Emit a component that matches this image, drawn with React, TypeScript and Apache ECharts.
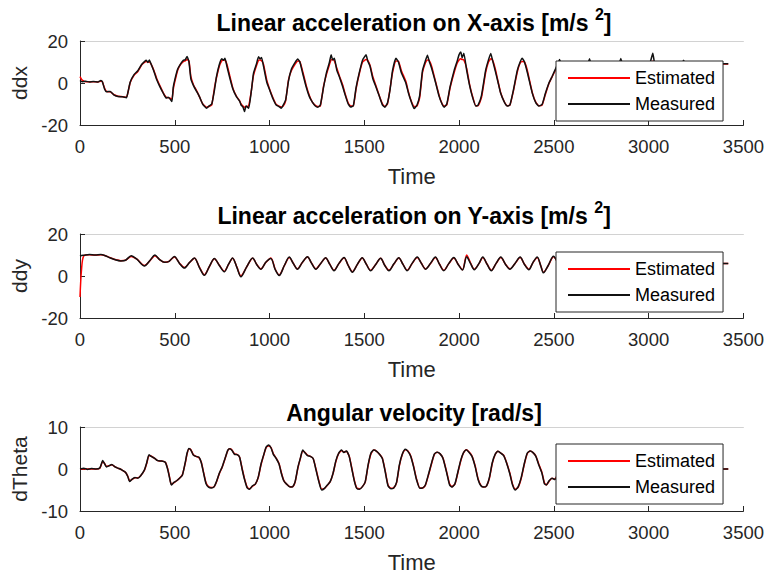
import React, { useEffect, useRef } from "react";
import * as echarts from "echarts";

// ---- Linear acceleration on X-axis ----
const ddxTime = [
  0, 10, 30, 50, 70, 95, 110, 118, 130, 140,
  160, 180, 200, 225, 245, 255, 265, 285, 305, 325,
  340, 350, 358, 366, 375, 390, 405, 420, 440, 455,
  465, 475, 485, 492, 500, 515, 530, 545, 555, 565,
  575, 585, 600, 615, 630, 648, 668, 680, 695, 710,
  720, 735, 748, 758, 765, 775, 790, 807, 825, 842,
  850, 860, 868, 876, 890, 905, 915, 930, 942, 950,
  958, 968, 985, 1000, 1018, 1035, 1050, 1062, 1072, 1085,
  1100, 1115, 1135, 1149, 1160, 1175, 1193, 1210, 1225, 1240,
  1255, 1268, 1285, 1300, 1315, 1325, 1333, 1342, 1355, 1370,
  1386, 1400, 1415, 1428, 1442, 1456, 1475, 1491, 1509, 1518,
  1530, 1545, 1561, 1578, 1596, 1608, 1622, 1636, 1649, 1667,
  1680, 1695, 1719, 1732, 1746, 1763, 1778, 1792, 1807, 1822,
  1833, 1842, 1855, 1875, 1895, 1910, 1921, 1935, 1952, 1974,
  1990, 2000, 2009, 2016, 2025, 2040, 2055, 2070, 2088, 2100,
  2118, 2140, 2155, 2167, 2176, 2190, 2205, 2219, 2238, 2254,
  2268, 2285, 2307, 2322, 2333, 2345, 2360, 2386, 2405, 2421,
  2438, 2455, 2474, 2490, 2505, 2518, 2530, 2545, 2580, 2615,
  2640, 2670, 2688, 2705, 2740, 2775, 2800, 2835, 2853, 2870,
  2905, 2940, 2970, 3000, 3015, 3022, 3030, 3070, 3105, 3135,
  3168, 3185, 3200, 3240, 3280, 3320, 3360, 3390, 3420,
];
const ddxMeasured = [
  1.2, 0.6, 0.8, 0.5, 0.7, 0.5, 1.2, 0.6, -3.0, -4.2,
  -4.0, -5.8, -6.4, -6.6, -7.0, -3.5, 0.5, 4.0, 5.8, 8.8,
  10.2, 10.8, 9.8, 11.0, 9.0, 5.5, 1.5, -1.5, -5.0, -7.2,
  -6.8, -7.6, -8.8, -2.0, 1.5, 6.5, 9.0, 10.8, 11.0, 12.6,
  10.0, 2.0, -1.5, -4.0, -6.5, -10.2, -12.0, -11.0, -10.0, -3.0,
  3.0, 8.8, 11.5, 10.8, 11.8, 8.0, 2.5, -3.0, -6.5, -8.6,
  -10.5, -11.5, -13.6, -11.0, -12.0, -3.0, 4.5, 8.8, 12.5, 11.5,
  12.2, 8.0, 0.5, -3.2, -7.5, -10.5, -11.2, -12.0, -10.5, -8.0,
  1.0, 6.5, 9.8, 11.4, 10.0, 4.5, -1.8, -6.5, -9.0, -10.8,
  -11.5, -10.5, -2.0, 4.8, 9.5, 13.4, 11.0, 11.8, 6.0, 2.5,
  -1.8, -6.0, -10.0, -11.4, -10.8, -2.5, 5.5, 11.0, 13.4, 10.5,
  8.0, 2.0, -1.8, -6.0, -10.5, -11.5, -9.5, -3.0, 6.0, 11.8,
  10.0, 5.0, 0.0, -4.5, -8.5, -12.2, -10.5, -6.0, 6.0, 10.5,
  13.2, 10.5, 7.0, 0.5, -6.5, -10.0, -11.5, -10.0, -2.0, 6.0,
  10.5, 13.5, 14.8, 12.0, 14.2, 6.0, -1.0, -6.5, -11.0, -10.5,
  -6.0, 6.0, 11.0, 14.1, 11.0, 6.0, 0.5, -4.8, -9.0, -11.0,
  -10.5, -4.0, 6.0, 10.0, 11.8, 10.0, 5.0, -4.8, -9.5, -11.0,
  -10.2, -5.0, 0.0, 3.0, 6.0, 8.5, 11.2, 7.0, -3.0, -10.5,
  -4.0, 6.0, 11.6, 6.0, -4.0, -10.5, -6.0, 6.0, 11.7, 6.0,
  -4.0, -11.0, -4.0, 7.0, 12.0, 14.2, 10.0, -3.0, -10.5, -3.0,
  8.0, 10.8, 6.0, -3.0, -6.0, 2.0, 8.0, 9.2, 9.2,
];
const ddxEstimated = [
  3.0, 1.5, 0.6, 0.6, 0.6, 0.5, 0.8, 0.6, -2.5, -4.0,
  -4.2, -5.6, -6.3, -6.5, -6.8, -3.8, 0.2, 3.6, 5.5, 8.5,
  9.8, 10.2, 10.0, 10.0, 9.0, 6.0, 2.0, -1.0, -4.8, -6.8,
  -7.0, -7.2, -7.8, -3.0, 0.5, 6.0, 8.8, 10.2, 10.6, 11.2,
  10.5, 3.0, -1.2, -3.6, -6.5, -10.0, -11.5, -11.2, -10.5, -2.0,
  2.5, 8.0, 10.6, 11.0, 10.8, 9.0, 3.5, -2.6, -6.2, -8.5,
  -10.0, -11.0, -11.5, -11.2, -11.0, -3.0, 3.5, 8.0, 10.8, 11.0,
  10.6, 9.0, 1.5, -2.8, -7.0, -10.2, -11.0, -11.4, -11.0, -8.5,
  1.5, 5.8, 9.0, 10.5, 10.2, 5.5, -1.0, -6.0, -9.0, -10.5,
  -11.2, -11.0, -1.5, 4.0, 8.5, 11.0, 11.2, 10.5, 7.0, 3.0,
  -1.0, -5.5, -9.5, -11.0, -11.0, -3.0, 5.0, 10.0, 11.2, 10.8,
  8.5, 3.0, -1.2, -5.8, -10.0, -11.2, -10.0, -2.5, 5.0, 10.5,
  10.4, 6.0, 0.8, -4.0, -8.2, -11.2, -11.0, -7.0, 5.0, 9.5,
  11.0, 10.8, 8.0, 1.0, -6.0, -9.8, -11.0, -10.5, -2.5, 5.0,
  9.5, 11.0, 11.5, 11.2, 11.0, 7.0, -0.5, -6.0, -10.8, -10.8,
  -7.0, 5.0, 10.0, 11.5, 11.0, 7.0, 1.0, -4.5, -8.8, -10.8,
  -10.6, -4.5, 5.2, 9.5, 10.2, 10.0, 6.0, -4.5, -9.2, -10.8,
  -10.5, -5.5, -0.2, 2.8, 5.5, 8.0, 10.2, 8.0, -2.5, -10.0,
  -4.5, 5.5, 10.2, 7.0, -3.5, -10.0, -6.5, 5.5, 10.2, 7.0,
  -3.5, -10.5, -4.5, 6.5, 10.0, 10.4, 10.0, -2.5, -10.0, -3.5,
  7.5, 10.0, 6.5, -2.5, -5.5, 1.5, 7.5, 9.0, 9.0,
];

// ---- Linear acceleration on Y-axis ----
const ddyTime = [
  0, 8, 20, 50, 80, 110, 130, 160, 190, 215,
  240, 270, 300, 340, 370, 395, 420, 446, 470, 498,
  525, 551, 578, 604, 630, 656, 682, 709, 735, 761,
  783, 805, 828, 849, 880, 911, 932, 954, 980, 1007,
  1030, 1051, 1078, 1104, 1125, 1147, 1173, 1200, 1222, 1244,
  1270, 1296, 1318, 1340, 1366, 1393, 1415, 1437, 1463, 1489,
  1511, 1533, 1560, 1586, 1608, 1630, 1656, 1682, 1704, 1726,
  1752, 1779, 1801, 1823, 1849, 1875, 1897, 1919, 1946, 1972,
  1995, 2018, 2040, 2060, 2080, 2105, 2125, 2148, 2170, 2195,
  2220, 2245, 2268, 2295, 2322, 2345, 2368, 2390, 2412, 2432,
  2445, 2470, 2498, 2520, 2545, 2590, 2640, 2685, 2735, 2780,
  2830, 2875, 2925, 2970, 3020, 3065, 3115, 3160, 3210, 3255,
  3305, 3350, 3390, 3420,
];
const ddyMeasured = [
  9.5, 9.8, 9.9, 10.2, 10.0, 10.2, 9.8, 8.6, 7.6, 7.2,
  7.5, 9.6, 8.0, 4.8, 7.5, 10.0, 7.8, 6.5, 7.0, 9.3,
  6.0, 3.8, 6.5, 8.6, 4.0, 0.3, 4.5, 8.3, 5.0, 2.0,
  5.5, 8.6, 4.0, -0.4, 4.5, 8.6, 5.5, 3.2, 6.5, 8.3,
  3.0, 0.2, 5.0, 9.0, 6.0, 3.2, 6.5, 9.2, 6.0, 3.2,
  6.0, 8.7, 5.5, 2.5, 6.0, 8.8, 5.0, 1.8, 5.5, 8.7,
  5.5, 2.5, 5.5, 8.4, 5.0, 2.5, 5.8, 8.7, 5.5, 2.5,
  6.0, 9.0, 6.0, 3.2, 6.0, 9.0, 5.5, 2.5, 6.0, 8.8,
  5.5, 2.8, 9.2, 6.0, 3.0, 6.0, 9.0, 5.5, 2.5, 6.0,
  9.0, 5.5, 3.2, 6.0, 9.0, 5.5, 3.0, 6.5, 9.0, 4.5,
  1.5, 5.0, 9.4, 6.5, 3.0, 8.8, 3.0, 8.8, 3.0, 8.8,
  3.0, 8.8, 3.0, 8.8, 3.0, 8.8, 3.0, 8.8, 3.5, 8.5,
  4.0, 8.0, 6.0, 6.0,
];
const ddyEstimated = [
  -10.0, 3.0, 9.6, 10.1, 10.0, 10.1, 9.8, 8.7, 7.7, 7.3,
  7.5, 9.3, 8.0, 5.0, 7.4, 9.7, 7.8, 6.6, 7.0, 9.1,
  6.1, 4.0, 6.4, 8.4, 4.2, 0.6, 4.4, 8.2, 5.1, 2.2,
  5.4, 8.5, 4.2, 0.0, 4.4, 8.5, 5.6, 3.4, 6.4, 8.6,
  3.2, 0.5, 4.9, 8.8, 6.1, 3.4, 6.4, 9.0, 6.1, 3.4,
  6.0, 8.6, 5.6, 2.7, 5.9, 8.7, 5.1, 2.1, 5.4, 8.6,
  5.6, 2.7, 5.5, 8.5, 5.1, 2.7, 5.7, 8.6, 5.6, 2.7,
  5.9, 8.8, 6.1, 3.4, 5.9, 8.8, 5.6, 2.7, 5.9, 8.6,
  5.6, 3.0, 10.0, 6.3, 3.2, 5.9, 8.8, 5.6, 2.7, 5.9,
  8.8, 5.6, 3.4, 5.9, 8.8, 5.6, 3.2, 6.4, 8.8, 4.6,
  1.8, 4.9, 9.2, 6.6, 3.2, 8.6, 3.2, 8.6, 3.2, 8.6,
  3.2, 8.6, 3.2, 8.6, 3.2, 8.6, 3.2, 8.6, 3.7, 8.3,
  4.2, 7.8, 6.0, 6.0,
];

// ---- Angular velocity ----
const dThetaTime = [
  0, 20, 40, 60, 85, 105, 120, 130, 140, 155,
  168, 185, 200, 220, 240, 252, 262, 275, 290, 305,
  320, 340, 352, 364, 375, 392, 410, 430, 450, 462,
  472, 482, 495, 510, 525, 540, 555, 565, 575, 585,
  598, 612, 628, 640, 652, 665, 678, 693, 708, 720,
  735, 750, 765, 780, 790, 802, 815, 830, 842, 855,
  868, 882, 895, 910, 925, 940, 955, 970, 982, 995,
  1008, 1020, 1035, 1050, 1062, 1075, 1090, 1108, 1122, 1135,
  1150, 1162, 1175, 1188, 1200, 1215, 1230, 1245, 1260, 1275,
  1290, 1305, 1320, 1335, 1350, 1365, 1380, 1392, 1405, 1420,
  1435, 1448, 1460, 1475, 1490, 1505, 1520, 1535, 1550, 1565,
  1580, 1595, 1610, 1625, 1640, 1655, 1670, 1685, 1700, 1716,
  1730, 1745, 1760, 1775, 1793, 1808, 1822, 1840, 1858, 1870,
  1884, 1900, 1915, 1935, 1950, 1962, 1978, 1992, 2008, 2022,
  2038, 2052, 2068, 2085, 2100, 2115, 2130, 2145, 2160, 2175,
  2190, 2205, 2220, 2235, 2250, 2268, 2282, 2297, 2312, 2328,
  2345, 2360, 2375, 2390, 2405, 2420, 2437, 2450, 2460, 2475,
  2490, 2505, 2540, 2575, 2610, 2650, 2685, 2720, 2755, 2790,
  2830, 2865, 2900, 2935, 2970, 3010, 3045, 3080, 3115, 3150,
  3190, 3225, 3260, 3300, 3340, 3380, 3420,
];
const dThetaMeasured = [
  0.0, 0.2, -0.1, 0.1, 0.0, 0.3, 2.0, 1.2, 0.5, 0.8,
  1.1, 0.5, 0.2, -0.2, -0.8, -1.8, -3.0, -2.4, -2.0, -2.2,
  -1.6, -0.2, 1.5, 3.4, 3.0, 2.6, 2.0, 1.9, 1.6, 0.0,
  -2.0, -3.8, -3.2, -2.8, -2.2, -1.5, 1.5, 3.8, 4.9, 4.5,
  3.3, 3.0, 2.8, 1.5, -1.0, -3.5, -4.3, -4.5, -4.2, -3.0,
  -1.0, 0.5, 2.5, 4.5, 4.8, 4.4, 3.5, 3.4, 2.8, 0.0,
  -2.5, -4.5, -4.8, -4.0, -3.6, -2.0, 1.2, 3.5, 5.2, 5.7,
  5.0, 3.5, 2.5, 1.2, -1.0, -2.8, -3.6, -4.3, -4.2, -3.0,
  0.5, 2.5, 4.5, 3.8, 3.2, 3.0, 2.5, -0.2, -3.0, -5.0,
  -4.6, -3.8, -3.0, -1.0, 2.0, 3.8, 4.5, 3.9, 4.3, 3.0,
  -0.2, -3.0, -4.6, -4.8, -4.2, -3.0, 1.0, 3.8, 4.5, 4.2,
  3.5, 2.5, -0.6, -4.0, -4.7, -4.5, -3.2, 1.0, 3.5, 4.7,
  4.2, 3.0, 0.5, -2.5, -4.6, -4.5, -3.8, -1.0, 2.0, 3.6,
  4.0, 3.6, 2.5, -1.0, -3.8, -4.3, -3.5, -1.0, 2.0, 3.8,
  4.6, 4.0, 3.0, 0.5, -2.5, -4.0, -4.3, -4.0, -2.0, 1.5,
  3.5, 4.2, 3.8, 3.2, 1.5, -1.2, -3.8, -5.0, -4.2, -2.0,
  1.5, 3.8, 4.3, 3.9, 3.0, 1.0, -1.0, -3.5, -3.8, -2.8,
  -2.2, -2.5, 1.5, 4.2, 2.0, -3.5, -4.5, 0.0, 4.2, 2.5,
  -3.0, -4.5, 0.0, 4.3, 2.5, -3.0, -4.5, 0.0, 4.0, 2.0,
  -3.0, -4.0, -0.5, 3.0, 1.5, 0.0, 0.0,
];
const dThetaEstimated = [
  0.0, 0.0, 0.0, 0.0, 0.0, 0.2, 1.8, 1.3, 0.6, 0.8,
  1.0, 0.5, 0.2, -0.2, -0.8, -1.7, -2.8, -2.5, -2.1, -2.1,
  -1.6, -0.3, 1.3, 3.2, 3.1, 2.6, 2.0, 1.9, 1.6, 0.2,
  -1.8, -3.7, -3.3, -2.8, -2.2, -1.4, 1.3, 3.6, 4.8, 4.6,
  3.4, 3.0, 2.7, 1.6, -0.8, -3.3, -4.2, -4.4, -4.2, -3.1,
  -1.1, 0.4, 2.4, 4.4, 4.8, 4.5, 3.6, 3.4, 2.8, 0.2,
  -2.3, -4.3, -4.7, -4.1, -3.6, -2.1, 1.0, 3.4, 5.1, 5.5,
  5.1, 3.6, 2.6, 1.3, -0.8, -2.7, -3.6, -4.2, -4.2, -3.1,
  0.3, 2.4, 4.3, 3.9, 3.3, 3.0, 2.5, 0.0, -2.8, -4.8,
  -4.6, -3.9, -3.0, -1.1, 1.8, 3.7, 4.4, 4.0, 4.2, 3.1,
  0.0, -2.8, -4.5, -4.7, -4.2, -3.1, 0.8, 3.6, 4.5, 4.2,
  3.5, 2.6, -0.4, -3.8, -4.6, -4.5, -3.3, 0.8, 3.4, 4.6,
  4.3, 3.1, 0.7, -2.3, -4.5, -4.5, -3.9, -1.2, 1.8, 3.5,
  4.0, 3.6, 2.6, -0.8, -3.6, -4.2, -3.6, -1.2, 1.8, 3.7,
  4.6, 4.1, 3.1, 0.7, -2.3, -3.9, -4.3, -4.0, -2.2, 1.3,
  3.4, 4.2, 3.8, 3.3, 1.6, -1.0, -3.6, -4.8, -4.3, -2.2,
  1.3, 3.7, 4.3, 3.9, 3.1, 1.2, -0.8, -3.3, -3.8, -2.9,
  -2.2, -2.4, 1.3, 4.1, 2.1, -3.3, -4.4, 0.0, 4.1, 2.6,
  -2.9, -4.4, 0.0, 4.2, 2.6, -2.9, -4.4, 0.0, 3.9, 2.1,
  -2.9, -3.9, -0.5, 2.9, 1.5, 0.0, 0.0,
];

const seriesNames = ["Estimated", "Measured"];
const timeTicks = { min: 0, max: 3500, interval: 500 };

const FONT = "'Liberation Sans', Arial, Helvetica, sans-serif";
const INK = "#262626";
const EST_COLOR = "#ff0000";
const MEAS_COLOR = "#111111";

const panels = [
  {
    title: "Linear acceleration on X-axis [m/s {sup|2}]",
    yName: "ddx", yMin: -20, yMax: 20, yStep: 20,
    time: ddxTime, est: ddxEstimated, meas: ddxMeasured,
    top: 41, titleTop: 6, legendTop: 61, smooth: 0.15,
  },
  {
    title: "Linear acceleration on Y-axis [m/s {sup|2}]",
    yName: "ddy", yMin: -20, yMax: 20, yStep: 20,
    time: ddyTime, est: ddyEstimated, meas: ddyMeasured,
    top: 234, titleTop: 199, legendTop: 252, smooth: 0.3,
  },
  {
    title: "Angular velocity [rad/s]",
    yName: "dTheta", yMin: -10, yMax: 10, yStep: 10,
    time: dThetaTime, est: dThetaEstimated, meas: dThetaMeasured,
    top: 427, titleTop: 401, legendTop: 444, smooth: 0.2,
  },
];

function zip(t: number[], v: number[]) {
  const n = Math.min(t.length, v.length);
  const out: [number, number][] = [];
  for (let i = 0; i < n; i++) out.push([t[i], v[i]]);
  return out;
}

function buildOption() {
  const grid: any[] = [];
  const xAxis: any[] = [];
  const yAxis: any[] = [];
  const series: any[] = [];
  const title: any[] = [];
  const legend: any[] = [];
  const PLOT_H = 84;
  const CENTER_X = 414;

  panels.forEach((p, i) => {
    grid.push({ left: 80, right: 22, top: p.top, height: PLOT_H });

    title.push({
      text: p.title,
      left: CENTER_X,
      top: p.titleTop,
      textAlign: "center",
      textVerticalAlign: "top",
      padding: 0,
      textStyle: {
        fontFamily: FONT,
        fontSize: 23,
        fontWeight: "bold",
        color: "#000",
        rich: {
          sup: {
            fontFamily: FONT,
            fontSize: 16,
            fontWeight: "bold",
            color: "#000",
            padding: [0, 0, 18, 0],
          },
        },
      },
    });

    // bottom time axis
    xAxis.push({
      gridIndex: i,
      type: "value",
      ...timeTicks,
      name: "Time",
      nameLocation: "middle",
      nameGap: 40,
      nameTextStyle: { fontFamily: FONT, fontSize: 22, color: INK },
      axisLine: { onZero: false, lineStyle: { color: INK, width: 1 } },
      axisTick: { inside: true, length: 5, lineStyle: { color: INK } },
      axisLabel: {
        fontFamily: FONT,
        fontSize: 18.5,
        color: INK,
        margin: 12,
        formatter: (v: number) => String(v),
      },
      splitLine: { show: false },
    });

    yAxis.push({
      gridIndex: i,
      type: "value",
      min: p.yMin,
      max: p.yMax,
      interval: p.yStep,
      name: p.yName,
      nameLocation: "middle",
      nameGap: 46,
      nameRotate: 90,
      nameTextStyle: { fontFamily: FONT, fontSize: 21, color: INK },
      axisLine: { show: true, onZero: false, lineStyle: { color: INK, width: 1 } },
      axisTick: { show: true, inside: true, length: 5, lineStyle: { color: INK } },
      axisLabel: {
        fontFamily: FONT,
        fontSize: 18.5,
        color: INK,
        margin: 12,
        formatter: (v: number) => String(v),
      },
      splitLine: { show: false },
    });

    series.push({
      type: "line",
      name: seriesNames[0],
      xAxisIndex: i,
      yAxisIndex: i,
      data: zip(p.time, p.est),
      symbol: "none",
      smooth: p.smooth,
      lineStyle: { color: EST_COLOR, width: 1.5 },
      itemStyle: { color: EST_COLOR },
      silent: true,
      z: 2,
    });
    series.push({
      type: "line",
      name: seriesNames[1],
      xAxisIndex: i,
      yAxisIndex: i,
      data: zip(p.time, p.meas),
      symbol: "none",
      smooth: p.smooth,
      lineStyle: { color: MEAS_COLOR, width: 1.5 },
      itemStyle: { color: MEAS_COLOR },
      silent: true,
      z: 3,
    });

    legend.push({
      data: seriesNames,
      left: 556,
      top: p.legendTop,
      orient: "vertical",
      selectedMode: false,
      backgroundColor: "#ffffff",
      borderColor: INK,
      borderWidth: 1,
      borderRadius: 0,
      padding: [8, 8, 8, 12],
      icon: "rect",
      itemWidth: 62,
      itemHeight: 2,
      itemGap: 8,
      textStyle: { fontFamily: FONT, fontSize: 18, color: "#000" },
    });
  });

  // light top border of each plot box
  panels.forEach((_, i) => {
    xAxis.push({
      gridIndex: i,
      type: "value",
      position: "top",
      ...timeTicks,
      axisLine: { onZero: false, lineStyle: { color: "#d2d2d2", width: 1 } },
      axisTick: { show: false },
      axisLabel: { show: false },
      splitLine: { show: false },
    });
  });

  return {
    animation: false,
    backgroundColor: "#ffffff",
    textStyle: { fontFamily: FONT },
    title,
    legend,
    grid,
    xAxis,
    yAxis,
    series,
  };
}

export default function App() {
  const ref = useRef<HTMLDivElement>(null);

  useEffect(() => {
    if (!ref.current) return;
    const chart = echarts.init(ref.current, undefined, { renderer: "svg" });
    chart.setOption(buildOption());
    return () => chart.dispose();
  }, []);

  return (
    <div
      ref={ref}
      style={{
        position: "fixed",
        left: 0,
        top: 0,
        width: 767,
        height: 582,
        background: "#ffffff",
      }}
    />
  );
}
